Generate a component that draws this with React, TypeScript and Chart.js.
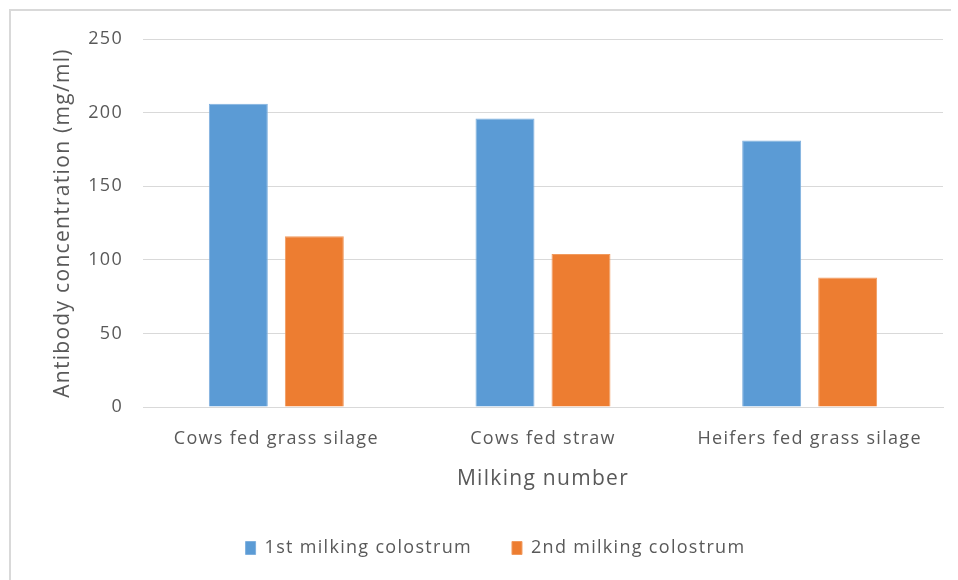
import React, { useEffect, useRef } from "react";
import { Chart, registerables } from "chart.js";

Chart.register(...registerables);

const categories = ["Cows fed grass silage", "Cows fed straw", "Heifers fed grass silage"];
const firstMilking = [206, 196, 181];
const secondMilking = [116, 104, 88];
const seriesNames = ["1st milking colostrum", "2nd milking colostrum"];
const yAxisTitle = "Antibody concentration (mg/ml)";
const xAxisTitle = "Milking number";
const yMin = 0;
const yMax = 250;
const yStep = 50;

const FONT = "'Open Sans', Lato, sans-serif";
const TEXT = "#595959";
const GRID = "#d9d9d9";
const LETTER_SPACING = "1.3px";

const spacingPlugin = {
  id: "letterSpacing",
  beforeUpdate(chart: any) {
    chart.ctx.letterSpacing = LETTER_SPACING;
  },
  beforeDraw(chart: any) {
    chart.ctx.letterSpacing = LETTER_SPACING;
  },
};

const legendShiftPlugin = {
  id: "legendShift",
  afterLayout(chart: any) {
    const l = chart.legend;
    if (l) {
      l.left += 19;
      l.right += 19;
    }
  },
};

export default function App() {
  const ref = useRef<HTMLCanvasElement>(null);
  useEffect(() => {
    if (!ref.current) return;
    const chart = new Chart(ref.current, {
      type: "bar",
      data: {
        labels: categories,
        datasets: [
          {
            label: seriesNames[0],
            data: firstMilking,
            backgroundColor: "#5B9BD5",
            borderColor: "#7fb0de",
            borderWidth: 1,
            barPercentage: 0.776,
            categoryPercentage: 0.57,
          },
          {
            label: seriesNames[1],
            data: secondMilking,
            backgroundColor: "#ED7D31",
            borderColor: "#f19a5e",
            borderWidth: 1,
            barPercentage: 0.776,
            categoryPercentage: 0.57,
          },
        ],
      },
      plugins: [spacingPlugin, legendShiftPlugin],
      options: {
        responsive: false,
        animation: false,
        layout: { padding: { left: 10, top: 39, right: 15, bottom: 13 } },
        scales: {
          x: {
            grid: { display: false, drawTicks: false },
            border: { display: true, color: GRID, width: 1 },
            ticks: { color: TEXT, font: { family: FONT, size: 18 }, padding: 21, maxRotation: 0 },
            title: {
              display: true,
              text: xAxisTitle,
              color: TEXT,
              font: { family: FONT, size: 21 },
              padding: { top: 7, bottom: 7 },
            },
            afterFit: (s: any) => {
              s.height = 92;
            },
          },
          y: {
            min: yMin,
            max: yMax,
            ticks: { stepSize: yStep, color: TEXT, font: { family: FONT, size: 18 }, padding: 20 },
            grid: { color: GRID, drawTicks: false },
            border: { display: false },
            title: {
              display: true,
              text: yAxisTitle,
              color: TEXT,
              font: { family: FONT, size: 21 },
              padding: { top: 40, bottom: 40 },
            },
            afterFit: (s: any) => {
              s.width = 133;
            },
          },
        },
        plugins: {
          legend: {
            position: "bottom",
            labels: {
              color: TEXT,
              font: { family: FONT, size: 18 },
              boxWidth: 10,
              boxHeight: 13,
              padding: 40,
            },
          },
          tooltip: { enabled: false },
        },
      },
    });
    return () => chart.destroy();
  }, []);

  return (
    <div style={{ position: "fixed", left: 0, top: 0, width: 958, height: 580, background: "#fff" }}>
      <div
        style={{
          position: "absolute",
          left: 9,
          top: 9,
          width: 940,
          height: 600,
          borderLeft: "2px solid #d9d9d9",
          borderTop: "2px solid #d9d9d9",
        }}
      />
      <canvas ref={ref} width={958} height={580} style={{ position: "absolute", left: 0, top: 0 }} />
    </div>
  );
}
